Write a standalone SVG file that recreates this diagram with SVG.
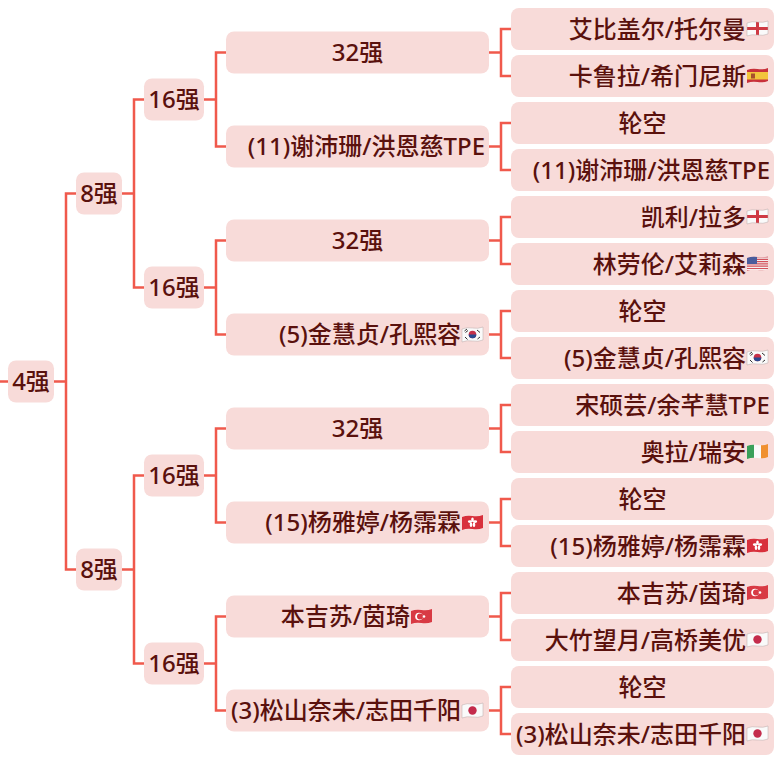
<svg xmlns="http://www.w3.org/2000/svg" width="782" height="760" viewBox="0 0 782 760">
<style>
.n{fill:#f8dbd9}
text{font-family:"Noto Sans","Noto Sans CJK SC",sans-serif;font-size:24px;font-weight:500;fill:#5a110d}
.e{text-anchor:end}.m{text-anchor:middle}
.c{fill:none;stroke:#f0594c;stroke-width:2.500}
</style>
<defs>
<clipPath id="w"><path d="M0 2Q5 0 10.500 1T21 0V13Q16 15 10.500 14T0 15Z"/></clipPath>
<path id="o" d="M0 2Q5 0 10.500 1T21 0V13Q16 15 10.500 14T0 15Z" fill="none" stroke="#b8a8a8" stroke-width="0.500"/>
<g id="eng"><g clip-path="url(#w)"><rect width="21" height="15" fill="#fafafa"/><rect x="9" width="3" height="15" fill="#cf3a44"/><rect y="6" width="21" height="3" fill="#cf3a44"/></g><use href="#o"/></g>
<g id="esp" clip-path="url(#w)"><rect width="21" height="15" fill="#c8303a"/><rect y="4" width="21" height="7.500" fill="#f2c53c"/><rect x="4" y="5.500" width="4" height="5" fill="#a8502c"/></g>
<g id="tur" clip-path="url(#w)"><rect width="21" height="15" fill="#d83a44"/><circle cx="8" cy="7.500" r="3.800" fill="#fff"/><circle cx="9" cy="7.500" r="3" fill="#d83a44"/><circle cx="13" cy="7.500" r="1.300" fill="#fff"/></g>
<g id="jpn"><g clip-path="url(#w)"><rect width="21" height="15" fill="#fafafa"/><circle cx="10.500" cy="7.500" r="4.200" fill="#c42c4c"/></g><use href="#o"/></g>
<g id="usa" clip-path="url(#w)"><rect width="21" height="15" fill="#f4f0f0"/><path d="M0 1H21M0 3.300H21M0 5.600H21M0 7.900H21M0 10.200H21M0 12.500H21M0 14.800H21" stroke="#d4505a" stroke-width="1.200"/><rect width="10" height="8" fill="#4a5c9c"/></g>
<g id="kor"><g clip-path="url(#w)"><rect width="21" height="15" fill="#fafafa"/><circle cx="10.500" cy="7.500" r="3.800" fill="#c83048"/><path d="M6.700 7.500a3.800 3.800 0 0 0 7.600 0z" fill="#2a4a90"/><path d="M2.500 4L5 2M3.500 5.500L6 3.500M15.500 12L18 10M15 3L18 5.500M3 10L5.500 12.500" stroke="#333" stroke-width="1"/></g><use href="#o"/></g>
<g id="hkg" clip-path="url(#w)"><rect width="21" height="15" fill="#d8303c"/><g fill="#fff"><ellipse cx="10.500" cy="4.800" rx="1.300" ry="2.200"/><ellipse cx="13" cy="6.600" rx="2.200" ry="1.300"/><ellipse cx="12" cy="9.800" rx="1.300" ry="2.200"/><ellipse cx="9" cy="9.800" rx="1.300" ry="2.200"/><ellipse cx="8" cy="6.600" rx="2.200" ry="1.300"/></g></g>
<g id="irl" clip-path="url(#w)"><rect width="7" height="15" fill="#3aa05a"/><rect x="7" width="7" height="15" fill="#fafafa"/><rect x="14" width="7" height="15" fill="#f09030"/></g>
</defs>
<g id="connectors" class="c">
<path d="M0 381.500H8M54 381.500H66M76 193.500H66V569.500H76"/>
<path d="M122 193.500H134M144 99.500H134V287.500H144M122 569.500H134M144 475.500H134V663.500H144"/>
<path d="M204 99.500H216M226 52.500H216V146.500H226M204 287.500H216M226 240.500H216V334.500H226M204 475.500H216M226 428.500H216V522.500H226M204 663.500H216M226 616.500H216V710.500H226"/>
<path d="M489 52.500H501M511 29H501V76H511M489 146.500H501M511 123H501V170H511M489 240.500H501M511 217H501V264H511M489 334.500H501M511 311H501V358H511M489 428.500H501M511 405H501V452H511M489 522.500H501M511 499H501V546H511M489 616.500H501M511 593H501V640H511M489 710.500H501M511 687H501V734H511"/>
</g>
<g id="n4"><rect class="n" x="8" y="360.500" width="46" height="42" rx="8"/><text class="m" x="31" y="390">4强</text></g>
<g id="n8a"><rect class="n" x="76" y="172.500" width="46" height="42" rx="8"/><text class="m" x="99" y="202">8强</text></g>
<g id="n8b"><rect class="n" x="76" y="548.500" width="46" height="42" rx="8"/><text class="m" x="99" y="578">8强</text></g>
<g id="n16a"><rect class="n" x="144" y="78.500" width="60" height="42" rx="8"/><text class="m" x="174" y="108">16强</text></g>
<g id="n16b"><rect class="n" x="144" y="266.500" width="60" height="42" rx="8"/><text class="m" x="174" y="296">16强</text></g>
<g id="n16c"><rect class="n" x="144" y="454.500" width="60" height="42" rx="8"/><text class="m" x="174" y="484">16强</text></g>
<g id="n16d"><rect class="n" x="144" y="642.500" width="60" height="42" rx="8"/><text class="m" x="174" y="672">16强</text></g>
<g id="m1"><rect class="n" x="226" y="31.500" width="263" height="42" rx="8"/><text class="m" x="357.500" y="61">32强</text></g>
<g id="m2"><rect class="n" x="226" y="125.500" width="263" height="42" rx="8"/><text class="e" x="485" y="155">(11)谢沛珊/洪恩慈TPE</text></g>
<g id="m3"><rect class="n" x="226" y="219.500" width="263" height="42" rx="8"/><text class="m" x="357.500" y="249">32强</text></g>
<g id="m4"><rect class="n" x="226" y="313.500" width="263" height="42" rx="8"/><text class="e" x="461" y="343">(5)金慧贞/孔熙容</text><use href="#kor" x="462" y="327"/></g>
<g id="m5"><rect class="n" x="226" y="407.500" width="263" height="42" rx="8"/><text class="m" x="357.500" y="437">32强</text></g>
<g id="m6"><rect class="n" x="226" y="501.500" width="263" height="42" rx="8"/><text class="e" x="461" y="531">(15)杨雅婷/杨霈霖</text><use href="#hkg" x="462" y="515"/></g>
<g id="m7"><rect class="n" x="226" y="595.500" width="263" height="42" rx="8"/><text class="e" x="410" y="625">本吉苏/茵琦</text><use href="#tur" x="411" y="609"/></g>
<g id="m8"><rect class="n" x="226" y="689.500" width="263" height="42" rx="8"/><text class="e" x="461" y="719">(3)松山奈未/志田千阳</text><use href="#jpn" x="462" y="703"/></g>
<g id="r1"><rect class="n" x="511" y="8" width="263" height="42" rx="8"/><text class="e" x="746" y="37.500">艾比盖尔/托尔曼</text><use href="#eng" x="747" y="21"/></g>
<g id="r2"><rect class="n" x="511" y="55" width="263" height="42" rx="8"/><text class="e" x="746" y="84.500">卡鲁拉/希门尼斯</text><use href="#esp" x="747" y="68"/></g>
<g id="r3"><rect class="n" x="511" y="102" width="263" height="42" rx="8"/><text class="m" x="642.500" y="131.500">轮空</text></g>
<g id="r4"><rect class="n" x="511" y="149" width="263" height="42" rx="8"/><text class="e" x="770" y="178.500">(11)谢沛珊/洪恩慈TPE</text></g>
<g id="r5"><rect class="n" x="511" y="196" width="263" height="42" rx="8"/><text class="e" x="746" y="225.500">凯利/拉多</text><use href="#eng" x="747" y="209"/></g>
<g id="r6"><rect class="n" x="511" y="243" width="263" height="42" rx="8"/><text class="e" x="746" y="272.500">林劳伦/艾莉森</text><use href="#usa" x="747" y="256"/></g>
<g id="r7"><rect class="n" x="511" y="290" width="263" height="42" rx="8"/><text class="m" x="642.500" y="319.500">轮空</text></g>
<g id="r8"><rect class="n" x="511" y="337" width="263" height="42" rx="8"/><text class="e" x="746" y="366.500">(5)金慧贞/孔熙容</text><use href="#kor" x="747" y="350"/></g>
<g id="r9"><rect class="n" x="511" y="384" width="263" height="42" rx="8"/><text class="e" x="770" y="413.500">宋硕芸/余芊慧TPE</text></g>
<g id="r10"><rect class="n" x="511" y="431" width="263" height="42" rx="8"/><text class="e" x="746" y="460.500">奥拉/瑞安</text><use href="#irl" x="747" y="444"/></g>
<g id="r11"><rect class="n" x="511" y="478" width="263" height="42" rx="8"/><text class="m" x="642.500" y="507.500">轮空</text></g>
<g id="r12"><rect class="n" x="511" y="525" width="263" height="42" rx="8"/><text class="e" x="746" y="554.500">(15)杨雅婷/杨霈霖</text><use href="#hkg" x="747" y="538"/></g>
<g id="r13"><rect class="n" x="511" y="572" width="263" height="42" rx="8"/><text class="e" x="746" y="601.500">本吉苏/茵琦</text><use href="#tur" x="747" y="585"/></g>
<g id="r14"><rect class="n" x="511" y="619" width="263" height="42" rx="8"/><text class="e" x="746" y="648.500">大竹望月/高桥美优</text><use href="#jpn" x="747" y="632"/></g>
<g id="r15"><rect class="n" x="511" y="666" width="263" height="42" rx="8"/><text class="m" x="642.500" y="695.500">轮空</text></g>
<g id="r16"><rect class="n" x="511" y="713" width="263" height="42" rx="8"/><text class="e" x="746" y="742.500">(3)松山奈未/志田千阳</text><use href="#jpn" x="747" y="726"/></g>
</svg>
